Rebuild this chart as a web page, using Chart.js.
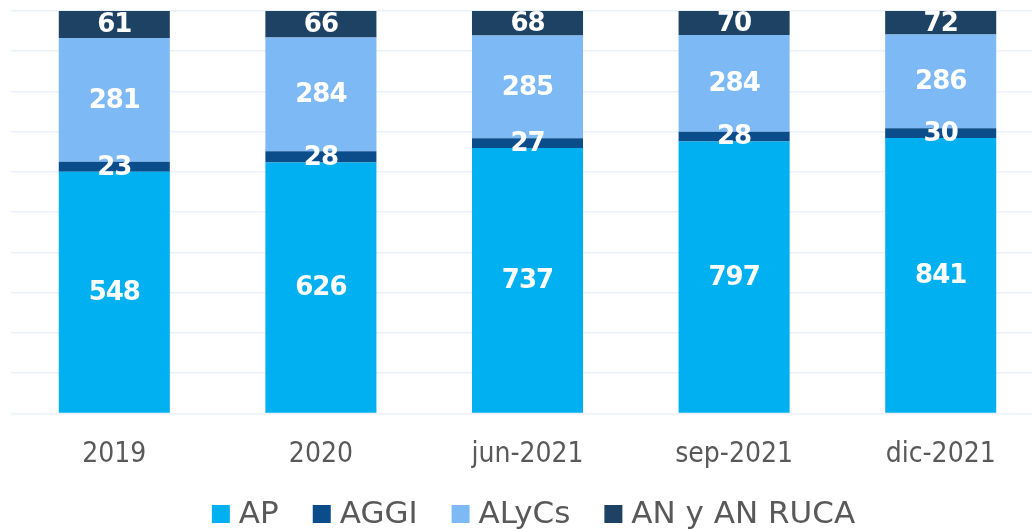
<!DOCTYPE html>
<html>
<head>
<meta charset="utf-8">
<script src="https://cdn.jsdelivr.net/npm/chart.js@4/dist/chart.umd.min.js"></script>
<style>
    html, body { margin: 0; padding: 0; background: #fff; overflow: hidden; }
    #wrap { width: 1067px; height: 529px; position: relative; }
</style>
</head>
<body>
<div id="wrap"><canvas id="chart"></canvas></div>
<script>
// Data
const categories = ['2019', '2020', 'jun-2021', 'sep-2021', 'dic-2021'];
const seriesNames = ['AP', 'AGGI', 'ALyCs', 'AN y AN RUCA'];
const apValues    = [548, 626, 737, 797, 841];
const aggiValues  = [23, 28, 27, 28, 30];
const alycsValues = [281, 284, 285, 284, 286];
const anValues    = [61, 66, 68, 70, 72];
const seriesColors = ['#00b0f0', '#0a4d8a', '#7cb9f5', '#1d4263'];

const allSeries = [apValues, aggiValues, alycsValues, anValues];
const totals = categories.map((c, i) => allSeries.reduce((s, arr) => s + arr[i], 0));

// 100% stacked: convert each value to share of the column total
const datasets = allSeries.map((arr, k) => ({
    label: seriesNames[k],
    data: arr.map((v, i) => v / totals[i] * 100),
    raw: arr,
    backgroundColor: seriesColors[k],
    borderWidth: 0,
    categoryPercentage: 1,
    barPercentage: 0.5375,
}));

// segment values, white bold, clipped to chart area
const segmentLabels = {
    id: 'segmentLabels',
    afterDatasetsDraw(chart) {
        const { ctx, chartArea } = chart;
        ctx.save();
        ctx.beginPath();
        ctx.rect(chartArea.left, chartArea.top, chartArea.right - chartArea.left, chartArea.bottom - chartArea.top);
        ctx.clip();
        ctx.fillStyle = '#ffffff';
        ctx.font = "bold 26px 'DejaVu Sans'";
        ctx.letterSpacing = '-1px';
        ctx.textAlign = 'center';
        ctx.textBaseline = 'middle';
        chart.data.datasets.forEach((ds, k) => {
            chart.getDatasetMeta(k).data.forEach((bar, i) => {
                const y = (bar.y + bar.base) / 2;
                ctx.fillText(String(ds.raw[i]), bar.x, y + 1);
            });
        });
        ctx.restore();
    }
};

// legend drawn at the bottom: square swatch + label
const bottomLegend = {
    id: 'bottomLegend',
    afterDraw(chart) {
        const { ctx } = chart;
        const box = 18, gapText = 9, gapItem = 34, baseY = 523;
        ctx.save();
        ctx.font = "31px 'DejaVu Sans'";
        const widths = chart.data.datasets.map(ds => ctx.measureText(ds.label).width);
        const total = widths.reduce((s, w) => s + box + gapText + w, 0) + gapItem * (widths.length - 1);
        let x = chart.width / 2 - total / 2;
        ctx.textBaseline = 'alphabetic';
        ctx.textAlign = 'left';
        chart.data.datasets.forEach((ds, k) => {
            ctx.fillStyle = ds.backgroundColor;
            ctx.fillRect(x, baseY - box, box, box);
            ctx.fillStyle = '#595959';
            ctx.fillText(ds.label, x + box + gapText, baseY);
            x += box + gapText + widths[k] + gapItem;
        });
        ctx.restore();
    }
};

new Chart(document.getElementById('chart'), {
    type: 'bar',
    data: { labels: categories, datasets: datasets },
    plugins: [segmentLabels, bottomLegend],
    options: {
        responsive: true,
        maintainAspectRatio: false,
        animation: false,
        layout: { padding: { top: 11, left: 11, right: 23, bottom: 40 } },
        plugins: {
            legend: { display: false },
            tooltip: { enabled: false },
        },
        scales: {
            x: {
                stacked: true,
                grid: { display: false },
                border: { display: false },
                ticks: {
                    color: '#595959',
                    padding: 17,
                    font: { family: "'DejaVu Sans Condensed', 'DejaVu Sans'", size: 28 },
                },
            },
            y: {
                stacked: true,
                min: 0,
                max: 100,
                ticks: { display: false, stepSize: 10 },
                grid: { color: '#eaf2f9', lineWidth: 1.5, drawTicks: false },
                border: { display: false },
            }
        }
    }
});
</script>
</body>
</html>
